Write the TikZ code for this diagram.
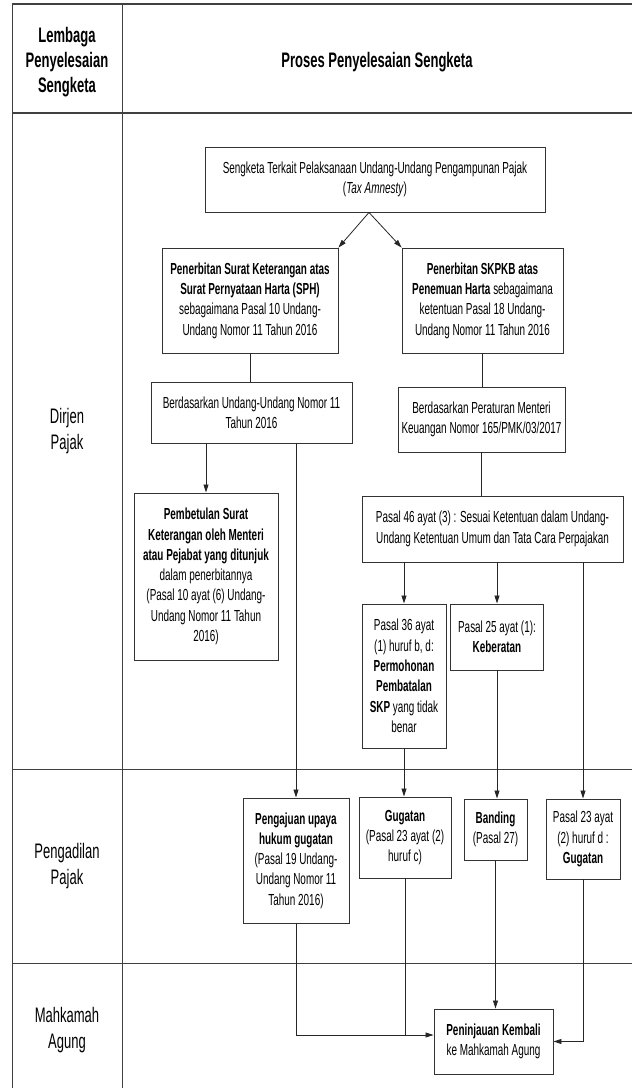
\documentclass[tikz,border=0pt]{standalone}
\usepackage{fontspec}
\setmainfont[FakeStretch=0.62]{Liberation Sans}
\usepackage{tikz}
\usetikzlibrary{arrows.meta,calc}
\newcommand{\boxfont}{\fontsize{16}{20.3}\selectfont}
\newcommand{\headfont}{\fontsize{21}{25}\selectfont}
\newcommand{\lanefont}{\fontsize{21}{26}\selectfont}
\tikzset{
  % --- table frame -----------------------------------------------------
  frame/.style   ={line width=0.9pt, draw=black!75},
  heavy/.style   ={frame, line width=1.6pt},
  head/.style    ={align=center, inner sep=0, font=\headfont\bfseries},
  lane/.style    ={align=center, inner sep=0, font=\lanefont},
  % --- process boxes ---------------------------------------------------
  stepbox/.style ={draw=black!80, line width=0.9pt, fill=white, align=center,
                   inner sep=0, font=\boxfont},
  % --- connectors ------------------------------------------------------
  arrow/.style   ={-{Triangle[length=8pt,width=5pt]}, line width=0.8pt, draw=black!85},
  link/.style    ={line width=0.8pt, draw=black!85},
}

\begin{document}
\begin{tikzpicture}[x=1pt, y=-1pt]
  \useasboundingbox (0,0) rectangle (632,1088);

  % ===================== table frame =====================
  \draw[heavy] (12,4) -- (632,4);
  \draw[frame] (12,4) -- (12,1088);
  \draw[frame] (122,4) -- (122,1088);
  \draw[heavy] (12,113) -- (632,113);
  \draw[frame] (12,769) -- (632,769);
  \draw[frame] (12,963) -- (632,963);

  \node[head] (lembaga) at (67,62) {Lembaga\\Penyelesaian\\Sengketa};
  \node[head] (proses) at (377,62) {Proses Penyelesaian Sengketa};
  \node[lane] (dirjen) at (67,431) {Dirjen\\Pajak};
  \node[lane] (pengadilan) at (67,866) {Pengadilan\\Pajak};
  \node[lane] (mahkamah) at (67,1030) {Mahkamah\\Agung};

  % ===================== dirjen pajak =====================
  \node[stepbox, minimum width=340pt, minimum height=65pt] (sengketa) at (375,179.5)
    {Sengketa Terkait Pelaksanaan Undang-Undang Pengampunan Pajak\\(\textit{Tax Amnesty})};
  \node[stepbox, minimum width=176pt, minimum height=105pt] (sph) at (250,300.5)
    {\textbf{Penerbitan Surat Keterangan atas}\\\textbf{Surat Pernyataan Harta (SPH)}\\
     sebagaimana Pasal 10 Undang-\\Undang Nomor 11 Tahun 2016};
  \node[stepbox, minimum width=161pt, minimum height=105pt] (skpkb) at (482.5,300.5)
    {\textbf{Penerbitan SKPKB atas}\\\textbf{Penemuan Harta} sebagaimana\\
     ketentuan Pasal 18 Undang-\\Undang Nomor 11 Tahun 2016};
  \node[stepbox, minimum width=201pt, minimum height=61pt] (uu) at (251.5,412.5)
    {Berdasarkan Undang-Undang Nomor 11\\Tahun 2016};
  \node[stepbox, minimum width=167pt, minimum height=65pt] (pmk) at (481.5,419.5)
    {Berdasarkan Peraturan Menteri\\Keuangan Nomor 165/PMK/03/2017};
  \node[stepbox, minimum width=144pt, minimum height=167pt] (pembetulan) at (206,576.5)
    {\textbf{Pembetulan Surat}\\\textbf{Keterangan oleh Menteri}\\\textbf{atau Pejabat yang ditunjuk}\\
     dalam penerbitannya\\(Pasal 10 ayat (6) Undang-\\Undang Nomor 11 Tahun\\2016)};
  \node[stepbox, minimum width=261pt, minimum height=66pt] (pasal46) at (492.5,529)
    {Pasal 46 ayat (3) : Sesuai Ketentuan dalam Undang-\\Undang Ketentuan Umum dan Tata Cara Perpajakan};
  \node[stepbox, minimum width=84pt, minimum height=144pt] (pasal36) at (404,676)
    {Pasal 36 ayat\\(1) huruf b, d:\\\textbf{Permohonan}\\\textbf{Pembatalan}\\\textbf{SKP} yang tidak\\benar};
  \node[stepbox, minimum width=93pt, minimum height=66pt] (pasal25) at (497,637)
    {Pasal 25 ayat (1):\\\textbf{Keberatan}};

  % ===================== pengadilan pajak =====================
  \node[stepbox, minimum width=106pt, minimum height=125pt] (pengajuan) at (296,860.5)
    {\textbf{Pengajuan upaya}\\\textbf{hukum gugatan}\\(Pasal 19 Undang-\\Undang Nomor 11\\Tahun 2016)};
  \node[stepbox, minimum width=92pt, minimum height=81pt] (gugatan) at (405,837.5)
    {\textbf{Gugatan}\\(Pasal 23 ayat (2)\\huruf c)};
  \node[stepbox, minimum width=63pt, minimum height=61pt] (banding) at (495.5,829.5)
    {\textbf{Banding}\\(Pasal 27)};
  \node[stepbox, minimum width=74pt, minimum height=80pt] (pasal23) at (583,839)
    {Pasal 23 ayat\\(2) huruf d :\\\textbf{Gugatan}};

  % ===================== mahkamah agung =====================
  \node[stepbox, minimum width=119pt, minimum height=65pt] (pk) at (493.5,1041.5)
    {\textbf{Peninjauan Kembali}\\ke Mahkamah Agung};
  \coordinate (pkin) at ([yshift=6.5pt]pk.west);

  % ===================== edges =====================
  \draw[arrow] ([xshift=-6pt]sengketa.south) -- (sph.north east);
  \draw[arrow] ([xshift=-6pt]sengketa.south) -- (skpkb.north west);
  \draw[link] (sph.south) -- (sph.south |- uu.north);
  \draw[link] (skpkb.south) -- (skpkb.south |- pmk.north);
  \draw[arrow] (pembetulan.north |- uu.south) -- (pembetulan.north);
  \draw[arrow] (pengajuan.north |- uu.south) -- (pengajuan.north);
  \draw[link] (pmk.south) -- (pmk.south |- pasal46.north);
  \draw[arrow] (pasal36.north |- pasal46.south) -- (pasal36.north);
  \draw[arrow] (pasal25.north |- pasal46.south) -- (pasal25.north);
  \draw[arrow] (pasal23.north |- pasal46.south) -- (pasal23.north);
  % into the tax court
  \draw[arrow] (pasal36.south) -- (pasal36.south |- gugatan.north);
  \draw[arrow] (pasal25.south) -- (pasal25.south |- banding.north);
  % into the supreme court
  \draw[arrow] (pengajuan.south) |- (pkin);
  \draw[link] (gugatan.south) -- (gugatan.south |- pkin);
  \draw[arrow] (banding.south) -- (banding.south |- pk.north);
  \draw[arrow] (pasal23.south) |- (pk.east);

\end{tikzpicture}
\end{document}
